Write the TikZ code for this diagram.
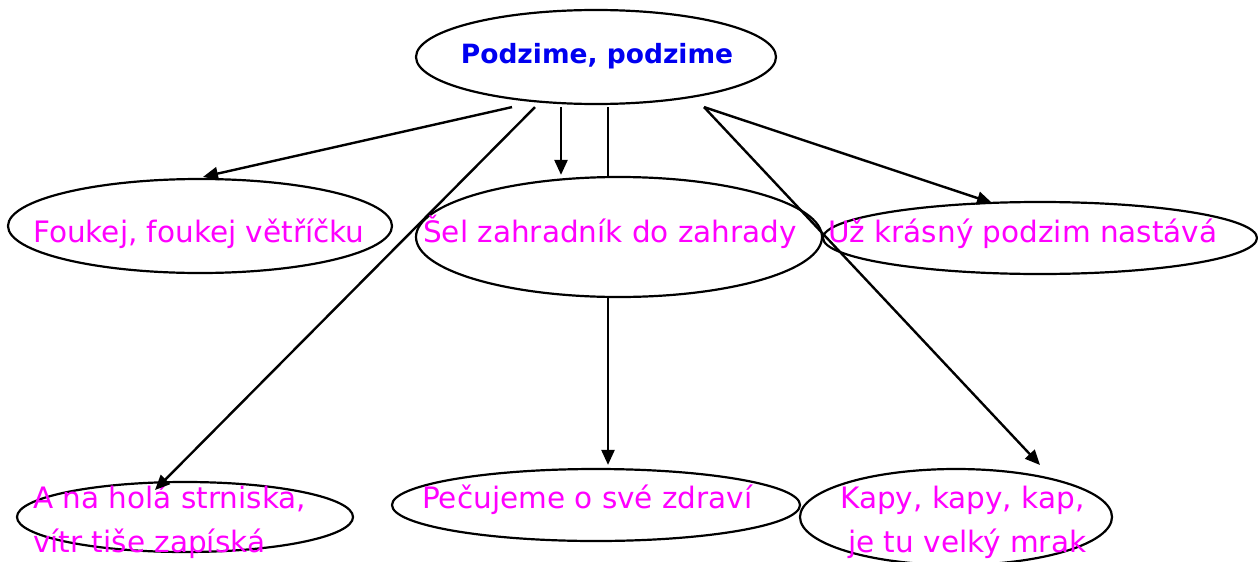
\documentclass[tikz,border=0pt]{standalone}
\usepackage{fontspec}
\setmainfont{DejaVu Sans}
\usetikzlibrary{arrows.meta,shapes.geometric}
\definecolor{txtmag}{RGB}{255,0,255}
\definecolor{txtblue}{RGB}{0,0,240}
\tikzset{
  oval/.style={draw=black, line width=2.2pt, ellipse, inner sep=0pt},
  lbl/.style={anchor=base west, inner sep=0pt, text=txtmag, font=\fontsize{29.5}{44}\selectfont},
  arr/.style={line width=2.4pt, -{Triangle[length=15pt,width=13pt]}},
  plain/.style={line width=2.4pt}
}
\begin{document}
\begin{tikzpicture}[x=1pt,y=-1pt]
\useasboundingbox (0,0) rectangle (1258,562);
% ellipses
\node[oval, minimum width=360pt, minimum height=94pt] (top) at (596,57) {};
\node[oval, minimum width=384pt, minimum height=94pt] (fou) at (200,226) {};
\node[oval, minimum width=406pt, minimum height=120pt] (sel) at (619,237) {};
\node[oval, minimum width=434pt, minimum height=72pt] (uz) at (1040,238) {};
\node[oval, minimum width=336pt, minimum height=70pt] (hol) at (185,517) {};
\node[oval, minimum width=408pt, minimum height=72pt] (pec) at (596,505) {};
\node[oval, minimum width=312pt, minimum height=96pt] (kap) at (956,517) {};
% texts
\node[anchor=base, inner sep=0pt, text=txtblue, font=\fontsize{26.5}{30}\selectfont\bfseries] (ttop) at (597,63) {Podzime, podzime};
\node[lbl] (tfou) at (33,242) {Foukej, foukej větříčku};
\node[lbl] (tsel) at (423,242) {Šel zahradník do zahrady};
\node[lbl] (tuz) at (828,242) {Už krásný podzim nastává};
\node[lbl] (thol1) at (33,508) {A na holá strniska,};
\node[lbl] (thol2) at (33,552) {vítr tiše zapíská};
\node[lbl] (tpec) at (422,508) {Pečujeme o své zdraví};
\node[lbl] (tkap1) at (840,508) {Kapy, kapy, kap,};
\node[lbl] (tkap2) at (848,552) {je tu velký mrak};
% connectors
\draw[arr] ([xshift=-84pt,yshift=-2pt]top.south) -- ([xshift=3pt,yshift=1pt]fou.north);
\draw[arr] ([xshift=-61pt,yshift=-2pt]top.south) -- ([xshift=-30pt,yshift=27pt]hol.center);
\draw[arr] ([xshift=-35pt,yshift=-2pt]top.south) -- ([xshift=-58pt,yshift=1pt]sel.north);
\draw[plain] ([xshift=12pt,yshift=-2pt]top.south) -- ([xshift=-11pt]sel.north);
\draw[arr] ([xshift=-11pt]sel.south) -- ([xshift=12pt,yshift=3pt]pec.north);
\draw[arr] ([xshift=108pt,yshift=-2pt]top.south) -- ([xshift=-48pt,yshift=-2pt]uz.north);
\draw[arr] ([xshift=108pt,yshift=-2pt]top.south) -- ([xshift=84pt,yshift=52pt]kap.center);
\end{tikzpicture}
\end{document}
